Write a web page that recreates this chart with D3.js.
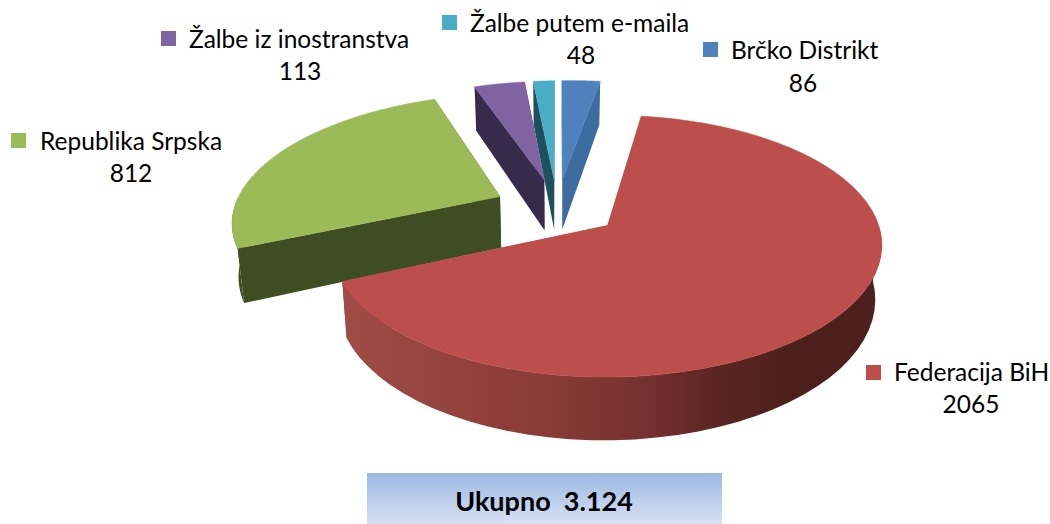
<!DOCTYPE html>
<html>
<head>
<meta charset="utf-8">
<script src="https://cdn.jsdelivr.net/npm/d3@7"></script>
<style>
  html, body { margin: 0; padding: 0; background: #fff; }
  svg { display: block; }
  text { font-family: Lato, "Open Sans", sans-serif; fill: #000; }
</style>
</head>
<body>
<div id="chart"></div>
<script>
// values
var categories = ['Federacija BiH', 'Republika Srpska', 'Žalbe iz inostranstva', 'Žalbe putem e-maila', 'Brčko Distrikt'];
var values = [2065, 812, 113, 48, 86];
var topColors = ['#bc4f4c', '#9bbb59', '#8064a2', '#4bacc6', '#4f81bd'];
var sideColors = ['url(#redWall)', '#3f4d23', '#372a4b', '#1d4f5c', '#3d6ca0'];
var totalLabel = 'Ukupno  3.124';

// where the legend text sits: square left/top, name start, name baseline
var legendSpots = [
    { sx: 866, sy: 365, tx: 894, ty: 381, vx: 971, vy: 413 },
    { sx: 11, sy: 133, tx: 40, ty: 150, vx: 131, vy: 182 },
    { sx: 161, sy: 31, tx: 189, ty: 48, vx: 300, vy: 80 },
    { sx: 442, sy: 15, tx: 470, ty: 32, vx: 581, vy: 64 },
    { sx: 703, sy: 42, tx: 731, ty: 59, vx: 803, vy: 92 }
];

var width = 1050, height = 524;

// fake 3d settings
var startDeg = 7.8;
var explode = 0.24;
var persp = 0.155;
var cx = 557, cy = 207.5;
var rx = 265, ry = 122;
var shear = -10;
var depth = 52;
var taper = 0.02;

var svg = d3.select('#chart').append('svg')
    .attr('width', width)
    .attr('height', height);

var defs = svg.append('defs');

var wall = defs.append('linearGradient')
    .attr('id', 'redWall')
    .attr('gradientUnits', 'userSpaceOnUse')
    .attr('x1', 347).attr('x2', 882).attr('y1', 0).attr('y2', 0);
wall.append('stop').attr('offset', '0%').attr('stop-color', '#a04b46');
wall.append('stop').attr('offset', '35%').attr('stop-color', '#8a3c38');
wall.append('stop').attr('offset', '55%').attr('stop-color', '#763230');
wall.append('stop').attr('offset', '70%').attr('stop-color', '#592421');
wall.append('stop').attr('offset', '85%').attr('stop-color', '#4c1f1c');
wall.append('stop').attr('offset', '100%').attr('stop-color', '#4d221e');

var boxGrad = defs.append('linearGradient')
    .attr('id', 'boxGrad')
    .attr('x1', 0).attr('x2', 0).attr('y1', 0).attr('y2', 1);
boxGrad.append('stop').attr('offset', '0%').attr('stop-color', '#9db8e3');
boxGrad.append('stop').attr('offset', '100%').attr('stop-color', '#d6e1f3');

// ground plane -> screen, z is 0 on the top face and 1 on the bottom
function project(u, v, z) {
    var w = 1 - persp * v;
    var k = 1 - taper * z;
    return [cx + k * (rx * u + shear * v) / w, cy + (ry * v + depth * z) / w];
}

var pie = d3.pie()
    .sort(null)
    .startAngle(startDeg * Math.PI / 180)
    .endAngle(startDeg * Math.PI / 180 + 2 * Math.PI);

var line = d3.line();

var slices = pie(values).map(function (d, i) {
    var mid = (d.startAngle + d.endAngle) / 2;
    var ou = explode * Math.sin(mid), ov = -explode * Math.cos(mid);
    var rim = d3.range(0, 61).map(function (k) {
        var a = d.startAngle + (d.endAngle - d.startAngle) * k / 60;
        return [a, ou + Math.sin(a), ov - Math.cos(a)];
    });
    return { i: i, ou: ou, ov: ov, rim: rim };
});

// back slices first, red last so it covers the green side
var drawOrder = [4, 3, 2, 1, 0];
var g = svg.append('g');

drawOrder.forEach(function (i) {
    var s = slices[i];
    var first = s.rim[0], last = s.rim[s.rim.length - 1];

    function radial(p) {
        return [project(s.ou, s.ov, 0), project(p[1], p[2], 0), project(p[1], p[2], 1), project(s.ou, s.ov, 1)];
    }
    var sg = g.append('g');

    [first, last].forEach(function (p) {
        sg.append('path').attr('d', line(radial(p)) + 'Z')
            .attr('fill', sideColors[i] == 'url(#redWall)' ? '#a04b46' : sideColors[i]);
    });

    // outer wall, only the part turned to the viewer
    var front = s.rim.filter(function (p) { return -Math.cos(p[0]) > 0; });
    if (front.length > 1) {
        var wallPts = front.map(function (p) { return project(p[1], p[2], 0); })
            .concat(front.slice().reverse().map(function (p) { return project(p[1], p[2], 1); }));
        sg.append('path').attr('d', line(wallPts) + 'Z').attr('fill', sideColors[i]);
    }

    var topPts = [project(s.ou, s.ov, 0)].concat(s.rim.map(function (p) { return project(p[1], p[2], 0); }));
    sg.append('path').attr('d', line(topPts) + 'Z')
        .attr('fill', topColors[i])
        .attr('stroke', topColors[i])
        .attr('stroke-width', 0.6);
});

// legend squares with names and values
categories.forEach(function (name, i) {
    var p = legendSpots[i];
    svg.append('rect').attr('x', p.sx).attr('y', p.sy).attr('width', 15).attr('height', 15).attr('fill', topColors[i]);
    svg.append('text').attr('x', p.tx).attr('y', p.ty).attr('font-size', 24.5).text(name);
    svg.append('text').attr('x', p.vx).attr('y', p.vy).attr('font-size', 24.5).attr('text-anchor', 'middle').text(values[i]);
});

// total box
svg.append('rect').attr('x', 367).attr('y', 473).attr('width', 355).attr('height', 51).attr('fill', 'url(#boxGrad)');
svg.append('text')
    .attr('x', 544).attr('y', 511)
    .attr('text-anchor', 'middle')
    .attr('font-size', 27)
    .attr('font-weight', 'bold')
    .style('white-space', 'pre')
    .text(totalLabel);
</script>
</body>
</html>
